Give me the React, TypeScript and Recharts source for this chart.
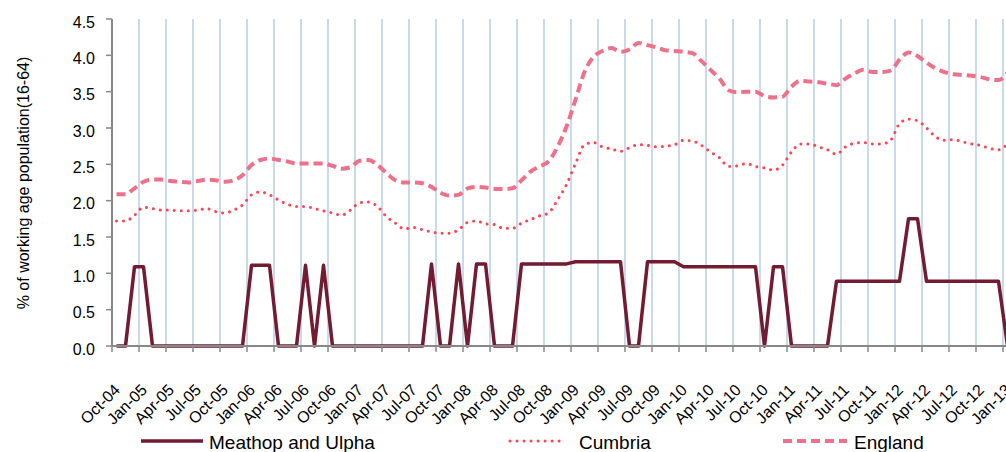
import { LineChart, Line, XAxis, YAxis, CartesianGrid, Legend } from "recharts";

const tickLabels = [
  "Oct-04", "Jan-05", "Apr-05", "Jul-05", "Oct-05", "Jan-06", "Apr-06", "Jul-06", "Oct-06",
  "Jan-07", "Apr-07", "Jul-07", "Oct-07", "Jan-08", "Apr-08", "Jul-08", "Oct-08",
  "Jan-09", "Apr-09", "Jul-09", "Oct-09", "Jan-10", "Apr-10", "Jul-10", "Oct-10",
  "Jan-11", "Apr-11", "Jul-11", "Oct-11", "Jan-12", "Apr-12", "Jul-12", "Oct-12", "Jan-13",
];

// monthly, Oct-04 .. Jan-13
const meathop = [
  0, 0, 1.09, 1.09, 0, 0, 0, 0, 0, 0, 0, 0, 0, 0, 0, 1.11, 1.11, 1.11, 0, 0,
  0, 1.11, 0, 1.11, 0, 0, 0, 0, 0, 0, 0, 0, 0, 0, 0, 1.13, 0, 0, 1.13, 0,
  1.13, 1.13, 0, 0, 0, 1.13, 1.13, 1.13, 1.13, 1.13, 1.13, 1.16, 1.16, 1.16, 1.16, 1.16, 1.16, 0, 0, 1.16,
  1.16, 1.16, 1.16, 1.09, 1.09, 1.09, 1.09, 1.09, 1.09, 1.09, 1.09, 1.09, 0, 1.09, 1.09, 0, 0, 0, 0, 0,
  0.89, 0.89, 0.89, 0.89, 0.89, 0.89, 0.89, 0.89, 1.75, 1.75, 0.89, 0.89, 0.89, 0.89, 0.89, 0.89, 0.89, 0.89, 0.89, 0,
];

const cumbria = [
  1.72, 1.72, 1.8, 1.91, 1.89, 1.87, 1.87, 1.86, 1.86, 1.87, 1.89, 1.85, 1.83, 1.87, 1.94, 2.08, 2.12, 2.08, 2.01, 1.95,
  1.92, 1.92, 1.89, 1.86, 1.83, 1.8, 1.87, 1.97, 1.98, 1.92, 1.78, 1.69, 1.61, 1.63, 1.6, 1.57, 1.55, 1.55, 1.6, 1.7,
  1.72, 1.68, 1.67, 1.62, 1.62, 1.69, 1.74, 1.79, 1.83, 2.01, 2.22, 2.51, 2.77, 2.8, 2.74, 2.71, 2.68, 2.73, 2.77, 2.76,
  2.74, 2.75, 2.77, 2.83, 2.82, 2.76, 2.67, 2.59, 2.47, 2.48, 2.51, 2.47, 2.45, 2.42, 2.49, 2.67, 2.78, 2.78, 2.74, 2.7,
  2.64, 2.74, 2.79, 2.8, 2.78, 2.78, 2.83, 3.06, 3.12, 3.1, 3.0, 2.88, 2.83, 2.84, 2.81, 2.78, 2.76, 2.72, 2.7, 2.78,
];

const england = [
  2.09, 2.09, 2.17, 2.26, 2.29, 2.29, 2.27, 2.26, 2.25, 2.27, 2.29, 2.28, 2.26, 2.28, 2.35, 2.49, 2.56, 2.58, 2.56, 2.54,
  2.51, 2.51, 2.51, 2.51, 2.48, 2.44, 2.46, 2.55, 2.56, 2.49, 2.38, 2.28, 2.25, 2.25, 2.24, 2.19, 2.11, 2.07, 2.08, 2.17,
  2.19, 2.18, 2.16, 2.16, 2.17, 2.28, 2.4, 2.47, 2.54, 2.74, 3.02, 3.39, 3.77, 3.98, 4.06, 4.1, 4.05, 4.08, 4.17, 4.14,
  4.11, 4.07, 4.06, 4.05, 4.03, 3.92, 3.8, 3.68, 3.52, 3.49, 3.5, 3.5, 3.44, 3.42, 3.43, 3.57, 3.65, 3.64, 3.63, 3.61,
  3.59, 3.68, 3.75, 3.8, 3.77, 3.77, 3.79, 3.94, 4.04, 3.99, 3.9, 3.82, 3.77, 3.74, 3.73, 3.72, 3.7, 3.67, 3.66, 3.76,
];

const yTicks = [0, 0.5, 1, 1.5, 2, 2.5, 3, 3.5, 4, 4.5];
const yLabel = "% of working age population(16-64)";

const FONT = '"Liberation Sans", Arial, sans-serif';

const data = meathop.map((v, i) => ({
  m: i + 0.5,
  meathop: v,
  cumbria: cumbria[i],
  england: england[i],
}));

const xTicks = tickLabels.map((_, k) => k * 3);

const series = [
  { key: "meathop", name: "Meathop and Ulpha", color: "#721B31", width: 3.5, dash: undefined, cap: "butt", type: "linear" },
  { key: "cumbria", name: "Cumbria", color: "#FF4352", width: 3, dash: "0.01 7", cap: "round", type: "monotone" },
  { key: "england", name: "England", color: "#EF7189", width: 4, dash: "9 5", cap: "butt", type: "monotone" },
] as const;

// legend item placement (sample start, sample length, text start)
const legendPos = [
  { left: 141, w: 62, text: 209 },
  { left: 510, w: 52, text: 579 },
  { left: 783, w: 64, text: 854 },
];

function ChartLegend() {
  return (
    <div style={{ position: "relative", width: 1020, height: 22, fontFamily: FONT, fontSize: 19, color: "#000" }}>
      {series.map((s, k) => (
        <div key={s.key}>
          <svg
            width={legendPos[k].w + 4}
            height={12}
            style={{ position: "absolute", left: legendPos[k].left - 2, top: 5 }}
          >
            <line
              x1={2}
              x2={legendPos[k].w + 2}
              y1={6}
              y2={6}
              stroke={s.color}
              strokeWidth={s.width}
              strokeDasharray={s.dash}
              strokeLinecap={s.cap}
            />
          </svg>
          <span
            style={{
              position: "absolute",
              left: legendPos[k].text,
              top: 2,
              lineHeight: "22px",
              whiteSpace: "nowrap",
            }}
          >
            {s.name}
          </span>
        </div>
      ))}
    </div>
  );
}

function XTick({ x, y, payload }: any) {
  const label = tickLabels[Math.round(payload.value / 3)];
  const ax = x + 9;
  const ay = y + 37;
  return (
    <text
      x={ax}
      y={ay}
      transform={`rotate(-45 ${ax} ${ay})`}
      textAnchor="end"
      fontSize={16}
      fontFamily={FONT}
      fill="#000"
    >
      {label}
    </text>
  );
}

export default function App() {
  return (
    <div
      style={{
        position: "fixed",
        left: 0,
        top: 0,
        width: 1006,
        height: 452,
        overflow: "hidden",
        background: "#fff",
      }}
    >
      <LineChart width={1020} height={452} data={data} margin={{ top: 19, right: 8, bottom: 0, left: 0 }}>
        <CartesianGrid horizontal={false} stroke="#B9CDE5" strokeWidth={1.5} />
        <XAxis
          dataKey="m"
          type="number"
          domain={[0, 100]}
          ticks={xTicks}
          interval={0}
          height={84}
          tick={<XTick />}
          tickSize={6}
          axisLine={{ stroke: "#888", strokeWidth: 2 }}
          tickLine={{ stroke: "#888", strokeWidth: 1.5 }}
        />
        <YAxis
          domain={[0, 4.5]}
          ticks={yTicks}
          width={112}
          tickSize={6}
          tickMargin={11}
          tickFormatter={(v: number) => v.toFixed(1)}
          tick={{ fontSize: 16, fontFamily: FONT, fill: "#000", dy: 3 }}
          axisLine={{ stroke: "#888", strokeWidth: 2 }}
          tickLine={{ stroke: "#888", strokeWidth: 1.5 }}
          label={{
            value: yLabel,
            content: () => (
              <text
                transform="translate(29,183) rotate(-90)"
                textAnchor="middle"
                fontSize={16}
                fontFamily={FONT}
                fill="#000"
              >
                {yLabel}
              </text>
            ),
          }}
        />
        <Legend
          verticalAlign="bottom"
          content={<ChartLegend />}
          wrapperStyle={{ left: 0, bottom: 0, width: 1020, height: 22 }}
        />
        {series.map((s) => (
          <Line
            key={s.key}
            dataKey={s.key}
            name={s.name}
            type={s.type}
            stroke={s.color}
            strokeWidth={s.width}
            strokeDasharray={s.dash}
            strokeLinecap={s.cap}
            strokeLinejoin="round"
            dot={false}
            activeDot={false}
            isAnimationActive={false}
          />
        ))}
      </LineChart>
    </div>
  );
}
